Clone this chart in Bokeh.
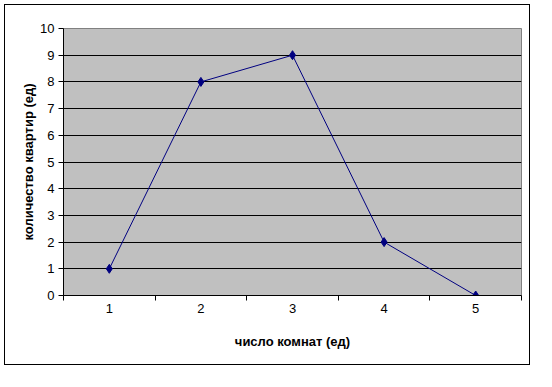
from bokeh.plotting import figure
from bokeh.models import FixedTicker, Range1d
from bokeh.embed import file_html
from bokeh.resources import INLINE

rooms = [1, 2, 3, 4, 5]
flats = [1, 8, 9, 2, 0]
x_ticks = [1, 2, 3, 4, 5]
x_bounds = [0.5, 1.5, 2.5, 3.5, 4.5, 5.5]
y_ticks = list(range(0, 11))

FONT = "Liberation Sans"

p = figure(width=526, height=361, output_backend="svg", toolbar_location=None,
           x_range=Range1d(0.5, 5.5), y_range=Range1d(0, 10),
           min_border_left=58, min_border_right=10, min_border_top=23, min_border_bottom=71,
           background_fill_color="#C0C0C0", border_fill_color="white",
           styles={"border": "1px solid black", "margin": "4px"})

p.outline_line_color = "#808080"
p.outline_line_width = 1

p.xgrid.visible = False
p.ygrid.grid_line_color = "black"
p.ygrid.grid_line_width = 1
p.ygrid.ticker = FixedTicker(ticks=y_ticks)

xa = p.xaxis[0]
xa.ticker = FixedTicker(ticks=x_ticks, minor_ticks=x_bounds)
xa.major_tick_out = 0
xa.major_tick_in = 0
xa.minor_tick_out = 5
xa.minor_tick_in = 0
xa.minor_tick_line_color = "black"
xa.axis_line_color = "black"
xa.major_label_standoff = 3
xa.major_label_text_font = FONT
xa.major_label_text_font_size = "13px"
xa.major_label_text_color = "black"
xa.axis_label = "число комнат (ед)"
xa.axis_label_text_font = FONT
xa.axis_label_text_font_size = "13px"
xa.axis_label_text_font_style = "bold"
xa.axis_label_text_color = "black"
xa.axis_label_standoff = 18

ya = p.yaxis[0]
ya.ticker = FixedTicker(ticks=y_ticks)
ya.major_tick_out = 5
ya.major_tick_in = 0
ya.minor_tick_line_color = None
ya.axis_line_color = "black"
ya.major_label_standoff = 4
ya.major_label_text_font = FONT
ya.major_label_text_font_size = "13px"
ya.major_label_text_color = "black"
ya.axis_label = "количество квартир (ед)"
ya.axis_label_text_font = FONT
ya.axis_label_text_font_size = "13px"
ya.axis_label_text_font_style = "bold"
ya.axis_label_text_color = "black"
ya.axis_label_standoff = 1

p.line(rooms, flats, line_color="#000080", line_width=1)
p.scatter(rooms, flats, marker="diamond", size=9, fill_color="#000080", line_color="#000080")

open("out.html", "w").write(file_html(p, INLINE))
